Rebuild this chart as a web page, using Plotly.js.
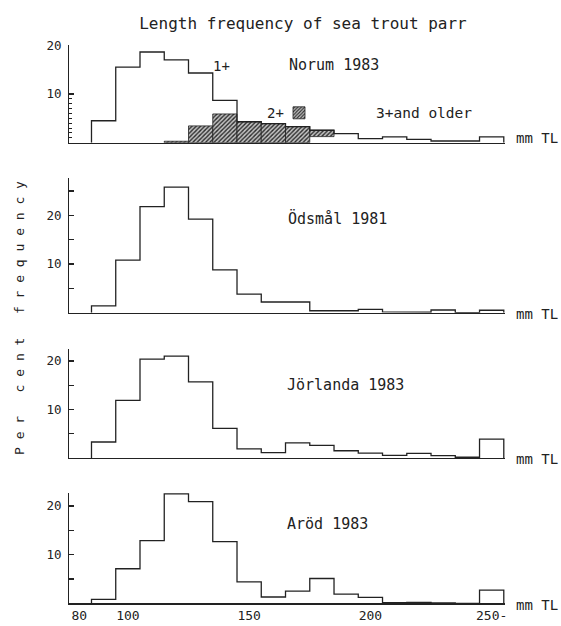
<!DOCTYPE html>
<html>
<head>
<meta charset="utf-8">
<script src="https://cdn.plot.ly/plotly-3.0.1.min.js"></script>
<style>html,body{margin:0;padding:0;background:#fff;}#chart{width:561px;height:626px;}</style>
</head>
<body>
<div id="chart"></div>
<script>
// ---- data (per cent frequency per 10 mm length class, class centre in mm TL) ----
const binCentres = [90, 100, 110, 120, 130, 140, 150, 160, 170, 180, 190, 200, 210, 220, 230, 240, 250];
const norumTotal = [4.5, 15.5, 18.6, 17.0, 14.3, 8.7, 4.3, 3.9, 3.3, 2.55, 1.85, 0.82, 1.2, 0.7, 0.35, 0.35, 1.2];
const norumTwoPlusBins = [120, 130, 140, 150, 160, 170, 180];
const norumTwoPlus = [0.3, 3.45, 5.9, 4.3, 3.9, 3.3, 1.3];
const norumTwoPlusBase = [0, 0, 0, 0, 0, 0, 1.25];
const odsmal = [1.4, 10.8, 21.8, 25.8, 19.2, 8.8, 3.8, 2.2, 2.2, 0.4, 0.4, 0.7, 0.15, 0.1, 0.55, 0, 0.5];
const jorlanda = [3.3, 11.9, 20.4, 21.0, 15.7, 6.1, 1.9, 1.1, 3.1, 2.6, 1.5, 1.0, 0.55, 0.95, 0.5, 0.15, 3.9];
const arod = [0.8, 7.1, 12.9, 22.5, 20.9, 12.7, 4.4, 1.3, 2.5, 5.1, 1.9, 1.2, 0.15, 0.2, 0.1, 0, 2.7];
const panelNames = ["Norum 1983", "Ödsmål 1981", "Jörlanda 1983", "Aröd 1983"];
const xTickVals = [80, 100, 150, 200, 250];
const xTickText = ["80", "100", "150", "200", "250-"];
const binWidth = 10;

// ---- layout helpers ----
const W = 561, H = 626;
const px = v => v / W;
const py = v => 1 - v / H;
const FONT = "DejaVu Sans Mono, monospace";
const INK = "#222";

function step(centres, vals) {
  const x = [centres[0] - binWidth / 2], y = [0];
  centres.forEach((c, i) => { x.push(c - binWidth / 2, c + binWidth / 2); y.push(vals[i], vals[i]); });
  x.push(centres[centres.length - 1] + binWidth / 2); y.push(0);
  return {x, y};
}

const series = [norumTotal, odsmal, jorlanda, arod];
// pixel geometry of each panel: baseline, top of axis (px) and top value
const panels = [
  {base: 142.7, top: 45.2, ymax: 20},
  {base: 312.7, top: 178.3, ymax: 27.6},
  {base: 458.0, top: 348.9, ymax: 22.5},
  {base: 603.3, top: 492.9, ymax: 22.7}
];

const traces = [];
// hatched 2+ bars (Norum)
traces.push({
  type: "bar", x: norumTwoPlusBins, y: norumTwoPlus, base: norumTwoPlusBase,
  width: binWidth, xaxis: "x", yaxis: "y", name: "", showlegend: true,
  marker: {color: "#bbbbbb", line: {color: INK, width: 0.8},
           pattern: {shape: "/", fgcolor: "#2a2a2a", bgcolor: "#c4c4c4", size: 3, solidity: 0.45, fillmode: "replace"}},
  hoverinfo: "skip"
});
series.forEach((s, i) => {
  const st = step(binCentres, s);
  const sfx = i === 0 ? "" : String(i + 1);
  traces.push({type: "scatter", mode: "lines", x: st.x, y: st.y, xaxis: "x" + sfx, yaxis: "y" + sfx,
    line: {color: INK, width: 1.3}, showlegend: false, hoverinfo: "skip"});
});

const layout = {
  width: W, height: H,
  margin: {l: 0, r: 0, t: 0, b: 0},
  paper_bgcolor: "#fff", plot_bgcolor: "#fff",
  showlegend: true,
  legend: {x: px(279), y: py(112.8), xanchor: "left", yanchor: "middle", bgcolor: "rgba(0,0,0,0)",
           font: {size: 2, family: FONT}, itemwidth: 30, tracegroupgap: 0},
  bargap: 0,
  title: {text: "Length frequency of sea trout parr", font: {family: FONT, size: 16, color: INK},
          x: px(303), xanchor: "center", y: py(23), yanchor: "middle", xref: "paper", yref: "container"},
  annotations: [],
  shapes: []
};

panels.forEach((p, i) => {
  const sfx = i === 0 ? "" : String(i + 1);
  const last = i === 3;
  layout["xaxis" + sfx] = {
    domain: [px(69.3), px(505)], range: [75.85, 255.5], anchor: "y" + sfx,
    showline: true, linecolor: INK, linewidth: 1.3, showgrid: false, zeroline: false,
    ticks: "", showticklabels: last, tickmode: "array", tickvals: xTickVals, ticktext: xTickText,
    tickfont: {family: FONT, size: 13, color: INK}, fixedrange: true
  };
  const yax = {
    domain: [py(p.base), py(p.top)], range: [0, p.ymax], anchor: "x" + sfx,
    showline: true, linecolor: INK, linewidth: 1.3, showgrid: false, zeroline: false,
    ticks: "inside", ticklen: 5, tickwidth: 1.2, tickcolor: INK,
    tickfont: {family: FONT, size: 12.5, color: INK}, ticklabelstandoff: 4, fixedrange: true,
    tickmode: "array"
  };
  if (i === 0) {
    yax.tickvals = [10, 20]; yax.ticktext = ["10", "20"];
    yax.minor = {tickmode: "array", tickvals: [1, 2, 3, 4, 5, 6, 7, 8, 9], ticks: "inside", ticklen: 3, tickwidth: 1, tickcolor: INK};
  } else if (i === 1) {
    yax.tickvals = [5, 10, 15, 20, 25]; yax.ticktext = ["", "10", "", "20", ""];
  } else {
    yax.tickvals = [5, 10, 15, 20]; yax.ticktext = ["", "10", "", "20"];
  }
  layout["yaxis" + sfx] = yax;
});

function ann(text, x, y, size, xanchor, extra) {
  return Object.assign({text, x: px(x), y: py(y), xref: "paper", yref: "paper", showarrow: false,
    xanchor: xanchor || "center", yanchor: "middle", font: {family: FONT, size, color: INK}}, extra || {});
}
const labelPos = [[286.7, 65], [286, 219], [284.5, 385], [284.5, 524]];
panelNames.forEach((n, i) => layout.annotations.push(ann(n, labelPos[i][0], labelPos[i][1], 15, "left")));
const mmY = [138, 314, 458.5, 604.5];
mmY.forEach(y => layout.annotations.push(ann("mm TL", 514, y, 14, "left")));
layout.annotations.push(ann("1+", 221.5, 65.7, 14));
layout.annotations.push(ann("2+", 275, 112.7, 14));
layout.annotations.push(ann("3+and older", 423.5, 112.7, 14.5));
const nb = "\u00A0";
const yTitle = ["P","e","r"].join(nb) + nb+nb+nb + ["c","e","n","t"].join(nb) + nb+nb+nb + ["f","r","e","q","u","e","n","c","y"].join(nb);
layout.annotations.push(ann(yTitle, 19, 318, 13, "center", {textangle: -90}));

Plotly.newPlot("chart", traces, layout, {staticPlot: true, displayModeBar: false});
</script>
</body>
</html>
